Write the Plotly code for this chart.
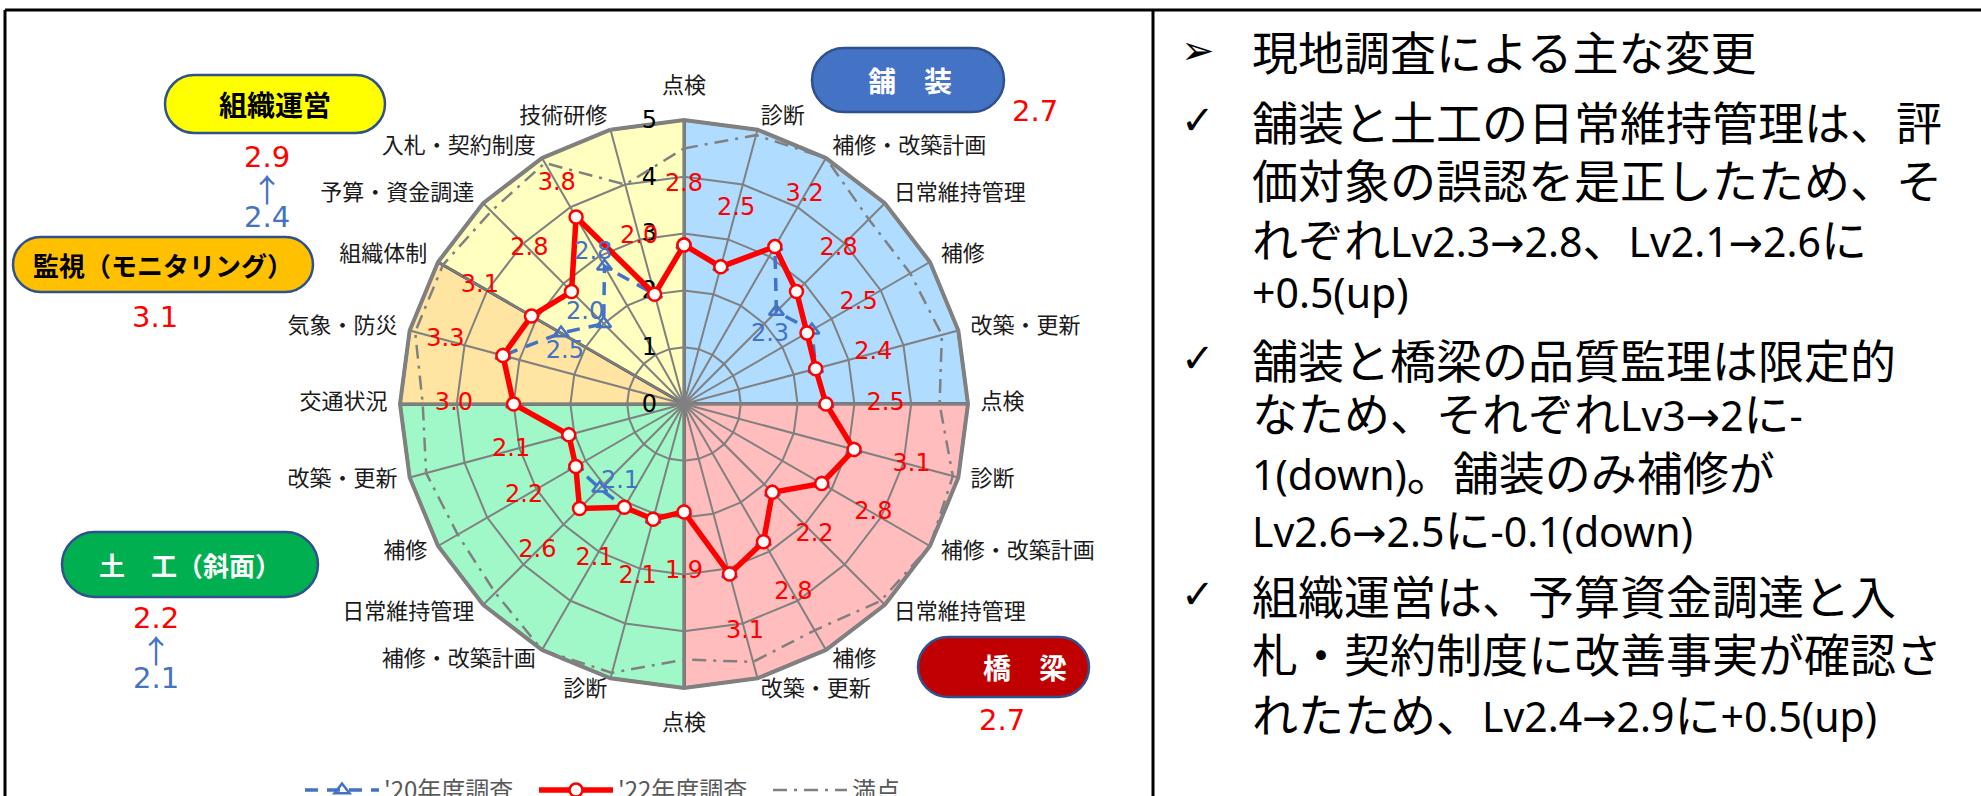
import plotly.graph_objects as go

W, H = 1981, 796

# ---------------- data ----------------
group_ids = ["pave"] * 6 + ["bridge"] * 6 + ["earth"] * 6 + ["monitor"] * 2 + ["org"] * 4
item_labels = ["点検", "診断", "補修・改築計画", "日常維持管理", "補修", "改築・更新",
               "点検", "診断", "補修・改築計画", "日常維持管理", "補修", "改築・更新",
               "点検", "診断", "補修・改築計画", "日常維持管理", "補修", "改築・更新",
               "交通状況", "気象・防災",
               "組織体制", "予算・資金調達", "入札・契約制度", "技術研修"]
survey_2022 = [2.8, 2.5, 3.2, 2.8, 2.5, 2.4,
               2.5, 3.1, 2.8, 2.2, 2.8, 3.1,
               1.9, 2.1, 2.1, 2.6, 2.2, 2.1,
               3.0, 3.3,
               3.1, 2.8, 3.8, 2.0]
survey_2020 = [2.8, 2.5, 3.2, 2.3, 2.6, 2.4,
               2.5, 3.1, 2.8, 2.2, 2.8, 3.1,
               1.9, 2.1, 2.1, 2.1, 2.2, 2.1,
               3.0, 3.3,
               2.5, 2.0, 2.8, 2.0]
full_score = [4.5, 4.9, 5.0, 4.6, 4.6, 4.7,
              4.5, 4.9, 5.0, 4.9, 4.6, 4.7,
              4.5, 4.9, 5.0, 4.7, 4.6, 4.7,
              4.6, 4.9,
              4.9, 4.8, 4.9, 4.0]
radial_ticks = [0, 1, 2, 3, 4, 5]
blue_label_idx = [3, 15, 20, 21, 22]

group_names = ["舗　装", "橋　梁", "土　工（斜面）", "監視（モニタリング）", "組織運営"]
group_2022 = [2.7, 2.7, 2.2, 3.1, 2.9]
group_2020 = [None, None, 2.1, None, 2.4]

# each note line: list of (text, is_latin) segments
notes = [[("現地調査による主な変更", 0)],
         [("舗装と土工の日常維持管理は、評", 0)],
         [("価対象の誤認を是正したため、そ", 0)],
         [("れぞれ", 0), ("Lv2.3→2.8", 1), ("、", 0), ("Lv2.1→2.6", 1), ("に", 0)],
         [("+0.5(up)", 1)],
         [("舗装と橋梁の品質監理は限定的", 0)],
         [("なため、それぞれ", 0), ("Lv3→2", 1), ("に", 0), ("-", 1)],
         [("1(down)", 1), ("。舗装のみ補修が", 0)],
         [("Lv2.6→2.5", 1), ("に", 0), ("-0.1(down)", 1)],
         [("組織運営は、予算資金調達と入", 0)],
         [("札・契約制度に改善事実が確認さ", 0)],
         [("れたため、", 0), ("Lv2.4→2.9", 1), ("に", 0), ("+0.5(up)", 1)]]
note_bullets = ["➢", "✓", "", "", "", "✓", "", "", "", "✓", "", ""]

# ---------------- styles ----------------
sector_order = ["pave", "bridge", "earth", "monitor", "org"]
sector_colors = {"pave": "#AFDCFF", "bridge": "#FFBDBD", "earth": "#A0F8C8",
                 "monitor": "#FFE4A2", "org": "#FFFFBF"}
red_dr = [1.05] * 24
red_dr[22] = 0.68
blue_off = {3: (-0.36, 6.3), 15: (-0.33, -5.5), 20: (-0.21, -6.3), 21: (0.36, -2.5), 22: (0.3, -1.0)}
note_y = [50, 120, 178, 237, 292, 358, 411, 470, 527, 594, 652, 712]

BLUE = "#4472C4"
RED = "#FF0000"
GRID = "#808080"
CJK = "Noto Sans CJK JP"
NUM = "DejaVu Sans"

n = len(item_labels)
step = 360.0 / n
angles = [i * step for i in range(n)]
cat_ids = [f"{g}_{i}" for i, g in enumerate(group_ids)]

# category label placement (outside the outer polygon)
lab_r, lab_pos = [], []
for a in angles:
    if a == 0:
        lab_r.append(5.38)
        lab_pos.append("top center")
    elif a == 180:
        lab_r.append(5.45)
        lab_pos.append("bottom center")
    elif a < 180:
        lab_r.append(5.22)
        lab_pos.append("middle right")
    else:
        lab_r.append(5.22)
        lab_pos.append("middle left")

# polar domain: centre (684, 404), radius 284 px for r = 5
cx, cy, R = 684, 404, 284


def domain_for(rmax):
    rad = R * rmax / 5.0
    return dict(x=[(cx - rad) / W, (cx + rad) / W], y=[1 - (cy + rad) / H, 1 - (cy - rad) / H])


fig = go.Figure()

# ---- sector fills (polar) ----
for g in sector_order:
    idx = [i for i, gg in enumerate(group_ids) if gg == g]
    a0 = idx[0] * step
    a1 = (idx[-1] + 1) * step
    th = [a0]
    rr = [0]
    k = a0
    while k <= a1 + 1e-9:
        th.append(k)
        rr.append(5)
        k += step
    th.append(a1)
    rr.append(0)
    fig.add_trace(go.Scatterpolar(r=rr, theta=th, mode="lines", fill="toself",
                                  fillcolor=sector_colors[g],
                                  line=dict(color="#5a5a5a", width=3),
                                  showlegend=False, hoverinfo="skip", subplot="polar"))

# ---- grid carrier (polar2, categorical polygon grid) ----
fig.add_trace(go.Scatterpolar(r=[0] * n, theta=cat_ids, mode="lines", opacity=0,
                              showlegend=False, hoverinfo="skip", subplot="polar2"))

# ---- data lines (polar3) ----
th_closed = angles + [angles[0] + 360]
fig.add_trace(go.Scatterpolar(r=full_score + [full_score[0]], theta=th_closed, mode="lines",
                              name="満点", legendrank=3,
                              line=dict(color=GRID, width=2.5, dash="14px,7px,3px,7px"),
                              hoverinfo="skip", subplot="polar3"))
fig.add_trace(go.Scatterpolar(r=survey_2020 + [survey_2020[0]], theta=th_closed, mode="lines+markers",
                              name="'20年度調査", legendrank=1,
                              line=dict(color=BLUE, width=3.5, dash="13px,9px"),
                              marker=dict(symbol="triangle-up-open", size=13, color=BLUE,
                                          line=dict(width=2.5, color=BLUE)),
                              hoverinfo="skip", subplot="polar3"))
fig.add_trace(go.Scatterpolar(r=survey_2022 + [survey_2022[0]], theta=th_closed, mode="lines+markers",
                              name="'22年度調査", legendrank=2,
                              line=dict(color=RED, width=5.5),
                              marker=dict(symbol="circle", size=13, color="white",
                                          line=dict(width=2.5, color=RED)),
                              hoverinfo="skip", subplot="polar3"))

# ---- value labels ----
fig.add_trace(go.Scatterpolar(r=[v + d for v, d in zip(survey_2022, red_dr)], theta=angles,
                              mode="text", text=[f"{v:.1f}" for v in survey_2022],
                              textfont=dict(color=RED, size=24, family=NUM),
                              cliponaxis=False, showlegend=False, hoverinfo="skip", subplot="polar3"))
fig.add_trace(go.Scatterpolar(r=[survey_2020[i] + blue_off[i][0] for i in blue_label_idx],
                              theta=[angles[i] + blue_off[i][1] for i in blue_label_idx],
                              mode="text", text=[f"{survey_2020[i]:.1f}" for i in blue_label_idx],
                              textfont=dict(color=BLUE, size=24, family=NUM),
                              cliponaxis=False, showlegend=False, hoverinfo="skip", subplot="polar3"))

# ---- category labels ----
fig.add_trace(go.Scatterpolar(r=lab_r, theta=angles, mode="text", text=item_labels,
                              textposition=lab_pos,
                              textfont=dict(color="#1a1a1a", size=22, family=CJK),
                              cliponaxis=False, showlegend=False, hoverinfo="skip", subplot="polar3"))

hidden_ang = dict(type="linear", rotation=90, direction="clockwise", showgrid=False, showline=False,
                  showticklabels=False, ticks="")

fig.update_layout(
    width=W, height=H, margin=dict(l=0, r=0, t=0, b=0, autoexpand=False),
    paper_bgcolor="white", plot_bgcolor="white",
    polar=dict(domain=domain_for(5), bgcolor="rgba(0,0,0,0)",
               angularaxis=hidden_ang,
               radialaxis=dict(range=[0, 5], showgrid=False, showline=False,
                               showticklabels=False, ticks="")),
    polar2=dict(domain=domain_for(5), bgcolor="rgba(0,0,0,0)", gridshape="linear",
                angularaxis=dict(type="category", categoryorder="array", categoryarray=cat_ids,
                                 rotation=90, direction="clockwise",
                                 showgrid=True, gridcolor=GRID, gridwidth=1.8,
                                 showline=True, linecolor=GRID, linewidth=4,
                                 showticklabels=False, ticks=""),
                radialaxis=dict(range=[0, 5], tickmode="array", tickvals=radial_ticks,
                                ticktext=[str(t) for t in radial_ticks],
                                showgrid=True, gridcolor=GRID, gridwidth=1.8,
                                showline=False, angle=90, side="counterclockwise", tickangle=90,
                                ticks="outside", ticklen=18, tickcolor="rgba(0,0,0,0)",
                                tickfont=dict(size=24, color="black", family=NUM))),
    polar3=dict(domain=domain_for(6), bgcolor="rgba(0,0,0,0)",
                angularaxis=hidden_ang,
                radialaxis=dict(range=[0, 6], showgrid=False, showline=False,
                                showticklabels=False, ticks="")),
    legend=dict(orientation="h", x=300 / W, y=1 - 768 / H, xanchor="left", yanchor="top",
                font=dict(size=24, color="#595959", family=CJK), itemwidth=74,
                entrywidth=145, entrywidthmode="pixels",
                bgcolor="rgba(0,0,0,0)", traceorder="normal"),
    showlegend=True,
)


def px(x):
    return x / W


def py(y):
    return 1 - y / H


def pill(x0, y0, x1, y1):
    r = (y1 - y0) / 2
    k = 0.5523 * r
    pts = [("M", [(x0 + r, y0)]),
           ("L", [(x1 - r, y0)]),
           ("C", [(x1 - r + k, y0), (x1, y0 + r - k), (x1, y0 + r)]),
           ("C", [(x1, y0 + r + k), (x1 - r + k, y1), (x1 - r, y1)]),
           ("L", [(x0 + r, y1)]),
           ("C", [(x0 + r - k, y1), (x0, y1 - r + k), (x0, y1 - r)]),
           ("C", [(x0, y0 + r - k), (x0 + r - k, y0), (x0 + r, y0)])]
    s = ""
    for cmd, ps in pts:
        s += cmd + " ".join(f"{px(a):.6f},{py(b):.6f}" for a, b in ps) + " "
    return s + "Z"


def ann(x, y, text, size, color, family, xanchor="center"):
    return dict(xref="paper", yref="paper", x=px(x), y=py(y), xanchor=xanchor, yanchor="middle",
                text=text, showarrow=False, font=dict(size=size, color=color, family=family))


shapes = []
annotations = []

# frame lines
for (x0, y0, x1, y1) in [(5, 10, W, 10), (5, 10, 5, H), (1153, 10, 1153, H)]:
    shapes.append(dict(type="line", xref="paper", yref="paper", x0=px(x0), y0=py(y0),
                       x1=px(x1), y1=py(y1), line=dict(color="black", width=3)))

# group pills
pill_boxes = [(812, 48, 1004, 112, "#4472C4", "white", 28, 910),
              (918, 637, 1089, 697, "#C00000", "white", 28, 1025),
              (62, 532, 318, 597, "#00B050", "white", 26, 190),
              (13, 237, 313, 292, "#FFC000", "black", 26, 163),
              (165, 75, 385, 133, "#FFFF00", "black", 28, 275)]
for (x0, y0, x1, y1, fc, tc, fs, tx), name in zip(pill_boxes, group_names):
    shapes.append(dict(type="path", xref="paper", yref="paper", path=pill(x0, y0, x1, y1),
                       fillcolor=fc, line=dict(color="#2F528F", width=2.5), layer="above"))
    annotations.append(ann(tx, (y0 + y1) / 2, f"<b>{name}</b>", fs, tc, CJK))

# group scores
score_pos = [(1035, 111), (1002, 720), (156, 618), (155, 317), (267, 157)]
for (sx, sy), v22, v20 in zip(score_pos, group_2022, group_2020):
    annotations.append(ann(sx, sy, f"{v22:.1f}", 29, RED, NUM))
    if v20 is not None:
        annotations.append(ann(sx, sy + 31, "↑", 32, BLUE, CJK))
        annotations.append(ann(sx, sy + 60, f"{v20:.1f}", 29, BLUE, NUM))

# right-hand notes
for segs, b, y in zip(notes, note_bullets, note_y):
    parts = []
    for t, latin in segs:
        if latin:
            t = t.replace("→", "<span style=\"font-family:'DejaVu Sans'\">→</span>")
            parts.append(f"<span style=\"font-family:'Noto Sans';font-size:41px\">{t}</span>")
        else:
            parts.append(t)
    annotations.append(ann(1250, y, "".join(parts), 46, "black", CJK, xanchor="left"))
    if b:
        annotations.append(ann(1198, y, b, 40, "black", NUM))

fig.update_layout(shapes=shapes, annotations=annotations)
fig.write_html("out.html")
